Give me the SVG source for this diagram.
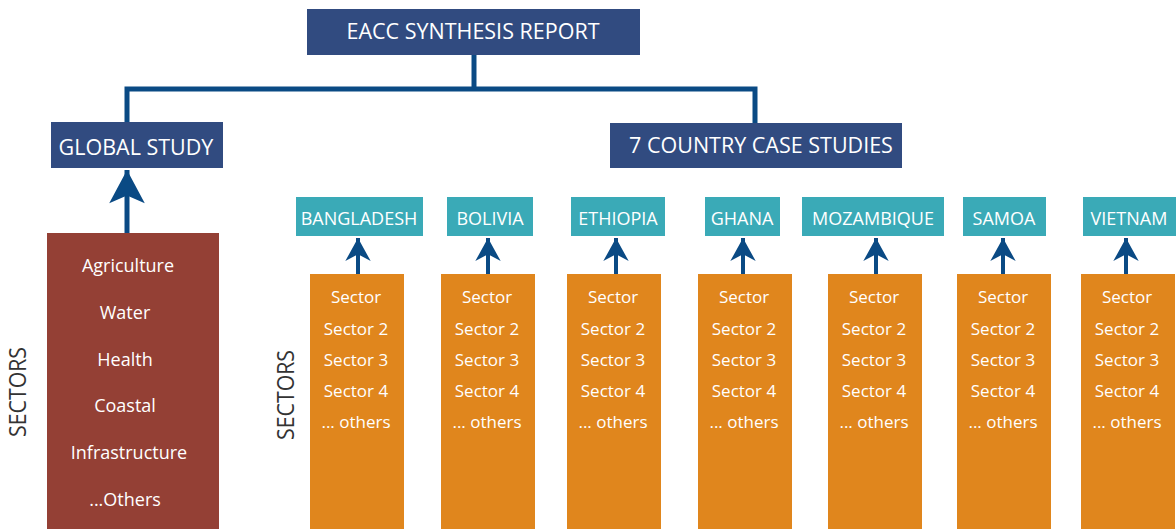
<svg xmlns="http://www.w3.org/2000/svg" width="1176" height="529" viewBox="0 0 1176 529">
<style>
.navy{fill:#314B80}
.teal{fill:#3AAAB7}
.orange{fill:#E0861D}
.brown{fill:#944035}
text{font-family:"Open Sans","Liberation Sans",sans-serif;fill:#ffffff;text-anchor:middle}
.h{font-size:21.5px}
.c{font-size:18px}
.s{font-size:17px}
.g{font-size:18px}
.side{font-size:23px;fill:#333333}
.conn{fill:none;stroke:#0A4A84}
</style>
<defs>
<marker id="ahS" markerUnits="userSpaceOnUse" markerWidth="30" markerHeight="30" viewBox="-22 -13 24 26" refX="0" refY="0" orient="auto">
<path d="M0,0 L-20,-11 L-14,0 L-20,11 Z" fill="#0A4A84"/>
</marker>
<marker id="ahL" markerUnits="userSpaceOnUse" markerWidth="40" markerHeight="40" viewBox="-32 -18 34 36" refX="0" refY="0" orient="auto">
<path d="M0,0 L-30,-16 L-23,0 L-30,16 Z" fill="#0A4A84"/>
</marker>
</defs>

<g id="connectors">
<polyline class="conn" stroke-width="5" points="127,122 127,89 755,89 755,124"/>
<line class="conn" stroke-width="5" x1="474" y1="55" x2="474" y2="89"/>
<line class="conn" stroke-width="5" x1="127" y1="233" x2="127" y2="170" marker-end="url(#ahL)"/>
<line class="conn" stroke-width="4" x1="358" y1="274" x2="358" y2="238" marker-end="url(#ahS)"/>
<line class="conn" stroke-width="4" x1="488" y1="274" x2="488" y2="238" marker-end="url(#ahS)"/>
<line class="conn" stroke-width="4" x1="616" y1="274" x2="616" y2="238" marker-end="url(#ahS)"/>
<line class="conn" stroke-width="4" x1="743" y1="274" x2="743" y2="238" marker-end="url(#ahS)"/>
<line class="conn" stroke-width="4" x1="876" y1="274" x2="876" y2="238" marker-end="url(#ahS)"/>
<line class="conn" stroke-width="4" x1="1003" y1="274" x2="1003" y2="238" marker-end="url(#ahS)"/>
<line class="conn" stroke-width="4" x1="1126" y1="274" x2="1126" y2="238" marker-end="url(#ahS)"/>
</g>

<g id="report">
<rect class="navy" x="307" y="9" width="333" height="46"/>
<text class="h" x="473" y="39">EACC SYNTHESIS REPORT</text>
</g>
<g id="global">
<rect class="navy" x="51" y="122" width="172" height="46"/>
<text class="h" x="136" y="155">GLOBAL STUDY</text>
</g>
<g id="country">
<rect class="navy" x="610" y="123" width="292" height="45"/>
<text class="h" x="761" y="153">7 COUNTRY CASE STUDIES</text>
</g>

<g id="global-sectors">
<rect class="brown" x="47" y="233" width="172" height="296"/>
<text class="g" x="128" y="272">Agriculture</text>
<text class="g" x="125" y="319">Water</text>
<text class="g" x="125" y="366">Health</text>
<text class="g" x="125" y="412">Coastal</text>
<text class="g" x="129" y="459">Infrastructure</text>
<text class="g" x="125" y="506">...Others</text>
</g>
<g id="sectors-label-1">
<text class="side" transform="translate(26,392) rotate(-90)" textLength="90" lengthAdjust="spacingAndGlyphs">SECTORS</text>
</g>
<g id="sectors-label-2">
<text class="side" transform="translate(294,395) rotate(-90)" textLength="90" lengthAdjust="spacingAndGlyphs">SECTORS</text>
</g>

<g id="bangladesh">
<rect class="teal" x="296" y="197" width="127" height="39"/>
<text class="c" x="359" y="225">BANGLADESH</text>
</g>
<g id="bolivia">
<rect class="teal" x="447" y="197" width="86" height="39"/>
<text class="c" x="490" y="225">BOLIVIA</text>
</g>
<g id="ethiopia">
<rect class="teal" x="571" y="197" width="94" height="39"/>
<text class="c" x="618" y="225">ETHIOPIA</text>
</g>
<g id="ghana">
<rect class="teal" x="705" y="197" width="75" height="39"/>
<text class="c" x="742" y="225">GHANA</text>
</g>
<g id="mozambique">
<rect class="teal" x="802" y="197" width="142" height="39"/>
<text class="c" x="873" y="225">MOZAMBIQUE</text>
</g>
<g id="samoa">
<rect class="teal" x="963" y="197" width="83" height="39"/>
<text class="c" x="1004" y="225">SAMOA</text>
</g>
<g id="vietnam">
<rect class="teal" x="1083" y="197" width="93" height="39"/>
<text class="c" x="1129" y="225">VIETNAM</text>
</g>

<g id="sectors-bangladesh">
<rect class="orange" x="310" y="274" width="94" height="255"/>
<text class="s" x="356" y="303">Sector</text><text class="s" x="356" y="335">Sector 2</text><text class="s" x="356" y="366">Sector 3</text><text class="s" x="356" y="397">Sector 4</text><text class="s" x="356" y="428">... others</text>
</g>
<g id="sectors-bolivia">
<rect class="orange" x="441" y="274" width="94" height="255"/>
<text class="s" x="487" y="303">Sector</text><text class="s" x="487" y="335">Sector 2</text><text class="s" x="487" y="366">Sector 3</text><text class="s" x="487" y="397">Sector 4</text><text class="s" x="487" y="428">... others</text>
</g>
<g id="sectors-ethiopia">
<rect class="orange" x="567" y="274" width="94" height="255"/>
<text class="s" x="613" y="303">Sector</text><text class="s" x="613" y="335">Sector 2</text><text class="s" x="613" y="366">Sector 3</text><text class="s" x="613" y="397">Sector 4</text><text class="s" x="613" y="428">... others</text>
</g>
<g id="sectors-ghana">
<rect class="orange" x="698" y="274" width="94" height="255"/>
<text class="s" x="744" y="303">Sector</text><text class="s" x="744" y="335">Sector 2</text><text class="s" x="744" y="366">Sector 3</text><text class="s" x="744" y="397">Sector 4</text><text class="s" x="744" y="428">... others</text>
</g>
<g id="sectors-mozambique">
<rect class="orange" x="828" y="274" width="94" height="255"/>
<text class="s" x="874" y="303">Sector</text><text class="s" x="874" y="335">Sector 2</text><text class="s" x="874" y="366">Sector 3</text><text class="s" x="874" y="397">Sector 4</text><text class="s" x="874" y="428">... others</text>
</g>
<g id="sectors-samoa">
<rect class="orange" x="957" y="274" width="94" height="255"/>
<text class="s" x="1003" y="303">Sector</text><text class="s" x="1003" y="335">Sector 2</text><text class="s" x="1003" y="366">Sector 3</text><text class="s" x="1003" y="397">Sector 4</text><text class="s" x="1003" y="428">... others</text>
</g>
<g id="sectors-vietnam">
<rect class="orange" x="1081" y="274" width="94" height="255"/>
<text class="s" x="1127" y="303">Sector</text><text class="s" x="1127" y="335">Sector 2</text><text class="s" x="1127" y="366">Sector 3</text><text class="s" x="1127" y="397">Sector 4</text><text class="s" x="1127" y="428">... others</text>
</g>
</svg>
